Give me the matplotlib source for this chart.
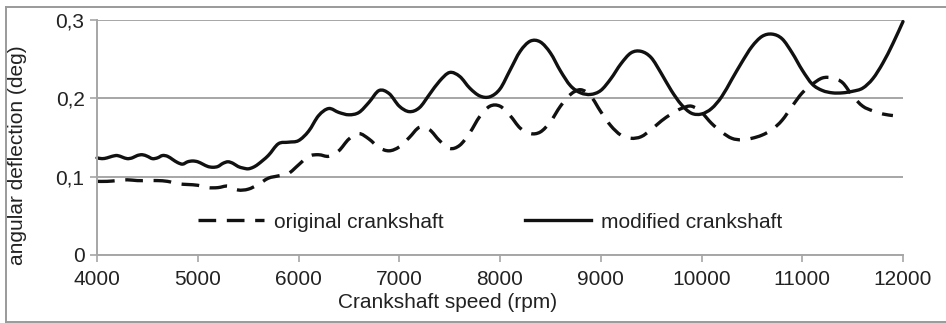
import matplotlib
matplotlib.use("Agg")
import matplotlib.pyplot as plt
from matplotlib.lines import Line2D
from matplotlib.path import Path
from matplotlib.patches import PathPatch

plt.rcParams['font.family'] = ['Liberation Sans', 'DejaVu Sans']

rpm_modified = [4000, 4050, 4100, 4150, 4200, 4250, 4300, 4350, 4400, 4450,
                4500, 4550, 4600, 4650, 4700, 4750, 4800, 4850, 4900, 4950,
                5000, 5050, 5100, 5150, 5200, 5250, 5300, 5350, 5400, 5450,
                5500, 5550, 5600, 5700, 5800, 5900, 6000, 6100, 6200, 6300,
                6400, 6500, 6600, 6700, 6800, 6900, 7000, 7100, 7200, 7300,
                7400, 7500, 7600, 7700, 7800, 7900, 8000, 8100, 8200, 8300,
                8400, 8500, 8600, 8700, 8800, 8900, 9000, 9100, 9200, 9300,
                9400, 9500, 9600, 9700, 9800, 9900, 10000, 10100, 10200, 10300,
                10400, 10500, 10600, 10700, 10800, 10900, 11000, 11100, 11200, 11300,
                11400, 11500, 11600, 11700, 11800, 11900, 12000]
modified = [0.124, 0.123, 0.124, 0.126, 0.127, 0.125, 0.123, 0.124, 0.127, 0.128,
            0.126, 0.123, 0.124, 0.127, 0.126, 0.122, 0.118, 0.116, 0.119, 0.120,
            0.119, 0.116, 0.113, 0.112, 0.113, 0.117, 0.119, 0.117, 0.113, 0.111,
            0.110, 0.112, 0.116, 0.127, 0.142, 0.144, 0.146, 0.158, 0.178, 0.187,
            0.182, 0.179, 0.182, 0.195, 0.210, 0.206, 0.190, 0.183, 0.188, 0.205,
            0.222, 0.233, 0.228, 0.213, 0.203, 0.202, 0.212, 0.236, 0.260, 0.273,
            0.272, 0.258, 0.235, 0.216, 0.207, 0.205, 0.210, 0.225, 0.244, 0.258,
            0.260, 0.252, 0.232, 0.210, 0.192, 0.181, 0.180, 0.187, 0.202, 0.224,
            0.246, 0.266, 0.279, 0.282, 0.276, 0.258, 0.236, 0.218, 0.210, 0.207,
            0.207, 0.209, 0.213, 0.225, 0.245, 0.270, 0.298]

rpm_original = list(range(4000, 11901, 100))
original = [0.094, 0.094, 0.095, 0.096, 0.095, 0.095, 0.095, 0.094, 0.091, 0.090,
            0.089, 0.086, 0.086, 0.088, 0.083, 0.084, 0.090, 0.098, 0.101, 0.104,
            0.115, 0.126, 0.128, 0.126, 0.133, 0.148, 0.155, 0.148, 0.137, 0.133,
            0.138, 0.150, 0.163, 0.160, 0.146, 0.136, 0.140, 0.156, 0.177, 0.190,
            0.190, 0.178, 0.162, 0.155, 0.157, 0.170, 0.190, 0.205, 0.211, 0.203,
            0.183, 0.165, 0.153, 0.149, 0.151, 0.160, 0.171, 0.180, 0.187, 0.190,
            0.182, 0.168, 0.157, 0.149, 0.147, 0.149, 0.153, 0.160, 0.172, 0.190,
            0.207, 0.218, 0.226, 0.226, 0.220, 0.203, 0.190, 0.184, 0.180, 0.178]

x_ticks = [4000, 5000, 6000, 7000, 8000, 9000, 10000, 11000, 12000]
y_ticks = [0, 0.1, 0.2, 0.3]
y_tick_labels = ['0', '0,1', '0,2', '0,3']


def smooth_path(xs, ys):
    """Excel-style smoothed line: cubic Bezier segments through every point."""
    n = len(xs)
    verts = [(xs[0], ys[0])]
    codes = [Path.MOVETO]
    for i in range(n - 1):
        i0 = max(i - 1, 0)
        i3 = min(i + 2, n - 1)
        c1 = (xs[i] + (xs[i + 1] - xs[i0]) / 6.0, ys[i] + (ys[i + 1] - ys[i0]) / 6.0)
        c2 = (xs[i + 1] - (xs[i3] - xs[i]) / 6.0, ys[i + 1] - (ys[i3] - ys[i]) / 6.0)
        verts += [c1, c2, (xs[i + 1], ys[i + 1])]
        codes += [Path.CURVE4] * 3
    return Path(verts, codes)


W, H = 946, 323
fig = plt.figure(figsize=(W / 100, H / 100), dpi=100)
ax = fig.add_axes([97 / W, 1 - 255 / H, (903 - 97) / W, (255 - 20) / H])

grid_c = '#a6a6a6'
ink = '#111111'
ax.set_xlim(4000, 12000)
ax.set_ylim(0, 0.3)
ax.set_yticks(y_ticks)
ax.set_yticklabels(y_tick_labels)
ax.set_xticks(x_ticks)
ax.yaxis.grid(True, color=grid_c, linewidth=1.4)
ax.set_axisbelow(True)
for s in ['top', 'right']:
    ax.spines[s].set_visible(False)
for s in ['left', 'bottom']:
    ax.spines[s].set_color(grid_c)
    ax.spines[s].set_linewidth(1.4)
ax.tick_params(axis='both', colors=grid_c, labelcolor='#222222', labelsize=15,
               length=5, width=1.2)
ax.tick_params(axis='x', pad=6)
ax.tick_params(axis='y', pad=4)

lw = 2.4
dash = (5.3, 3.2)
ax.add_patch(PathPatch(smooth_path(rpm_original, original), fill=False,
                       edgecolor=ink, linewidth=lw, linestyle=(0, dash),
                       capstyle='butt', joinstyle='round', clip_on=False))
ax.add_patch(PathPatch(smooth_path(rpm_modified, modified), fill=False,
                       edgecolor=ink, linewidth=lw, linestyle='-',
                       capstyle='round', joinstyle='round', clip_on=False))

handles = [Line2D([], [], color=ink, linewidth=lw, dashes=dash, dash_capstyle='butt'),
           Line2D([], [], color=ink, linewidth=lw)]
leg = ax.legend(handles, ['original crankshaft', 'modified crankshaft'],
                loc='center left', bbox_to_anchor=(0.125, 0.14), ncol=2,
                frameon=False, fontsize=15, handlelength=3.2, handletextpad=0.45,
                columnspacing=3.9, borderpad=0, borderaxespad=0)
for t in leg.get_texts():
    t.set_color('#222222')

fig.text(18 / W, 1 - 155 / H, 'angular deflection (deg)', rotation=90,
         ha='center', va='center', fontsize=15, color='#222222')
fig.text(448 / W, 1 - 302 / H, 'Crankshaft speed (rpm)', ha='center',
         va='center', fontsize=15, color='#222222')

# outer frame lines
border_c = '#9a9a9a'
fig.add_artist(Line2D([6 / W, 1.0], [1 - 7 / H, 1 - 7 / H], transform=fig.transFigure,
                      color=border_c, linewidth=1.4))
fig.add_artist(Line2D([6 / W, 6 / W], [1 - 7 / H, 1 - 321.5 / H], transform=fig.transFigure,
                      color=border_c, linewidth=1.4))
fig.add_artist(Line2D([6 / W, 1.0], [1 - 321.5 / H, 1 - 321.5 / H], transform=fig.transFigure,
                      color=border_c, linewidth=1.4))

fig.savefig('out.png', dpi=100)
